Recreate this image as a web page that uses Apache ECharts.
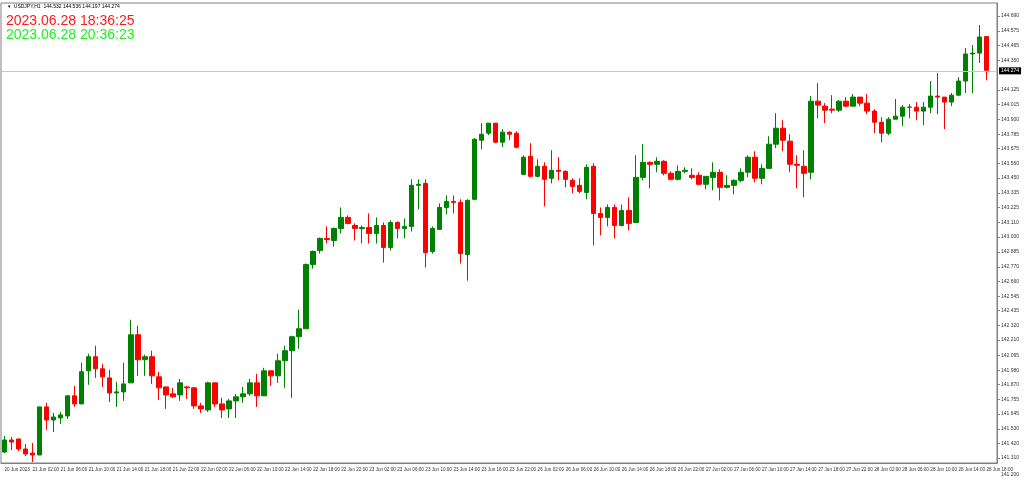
<!DOCTYPE html>
<html><head><meta charset="utf-8">
<script src="https://cdn.jsdelivr.net/npm/echarts@6/dist/echarts.min.js"></script>
<style>html,body{margin:0;padding:0;background:#fff}#c{width:1024px;height:481px}</style>
</head><body><div id="c"></div>
<script>
const opens=[141.354,141.446,141.454,141.377,141.346,141.331,141.699,141.599,141.615,141.630,141.784,141.722,141.975,142.083,141.991,141.921,141.806,141.814,141.883,142.251,142.060,142.083,141.929,141.852,141.799,141.791,141.852,141.845,141.707,141.676,141.883,141.722,141.684,141.745,141.776,141.799,141.883,141.784,141.975,141.937,142.052,142.129,142.236,142.297,142.788,142.896,142.988,142.972,143.064,143.149,143.087,143.064,143.072,143.026,143.087,142.919,143.110,143.064,143.080,143.394,143.409,142.888,143.057,143.225,143.271,143.264,142.865,143.287,143.739,143.793,143.870,143.724,143.801,143.793,143.478,143.616,143.463,143.540,143.448,143.509,143.501,143.432,143.394,143.340,143.540,143.179,143.149,143.225,143.087,143.202,143.110,143.455,143.570,143.555,143.578,143.486,143.440,143.501,143.471,143.471,143.402,143.455,143.494,143.379,143.394,143.432,143.494,143.609,143.448,143.524,143.709,143.831,143.732,143.555,143.540,143.494,144.038,144.000,143.977,143.969,144.038,144.000,144.069,144.023,143.962,143.877,143.793,143.900,143.923,143.992,143.992,143.962,143.992,144.077,144.069,144.031,144.084,144.192,144.399,144.406,144.532];
const closes=[141.446,141.431,141.377,141.339,141.331,141.699,141.599,141.622,141.638,141.784,141.722,141.968,142.083,141.991,141.929,141.806,141.814,141.875,142.251,142.060,142.083,141.937,141.845,141.791,141.776,141.883,141.845,141.707,141.684,141.883,141.722,141.676,141.745,141.776,141.799,141.883,141.784,141.975,141.937,142.052,142.129,142.236,142.297,142.788,142.888,142.988,142.980,143.064,143.149,143.103,143.064,143.072,143.026,143.087,142.919,143.110,143.064,143.080,143.394,143.402,142.880,143.064,143.225,143.271,143.264,142.872,143.279,143.747,143.785,143.870,143.724,143.801,143.785,143.686,143.609,143.463,143.540,143.440,143.509,143.501,143.440,143.386,143.348,143.532,143.179,143.149,143.225,143.087,143.202,143.103,143.455,143.570,143.555,143.578,143.486,143.440,143.501,143.509,143.455,143.402,143.463,143.494,143.379,143.394,143.432,143.494,143.609,143.448,143.524,143.709,143.831,143.739,143.555,143.547,143.486,144.038,144.008,143.969,143.969,144.038,144.000,144.069,144.023,143.962,143.877,143.793,143.900,143.923,143.992,143.993,143.962,143.992,144.077,144.069,144.031,144.084,144.192,144.399,144.406,144.529,144.274];
const lows=[141.346,141.369,141.362,141.323,141.277,141.331,141.523,141.507,141.569,141.607,141.699,141.722,141.868,141.921,141.852,141.737,141.699,141.745,141.883,141.937,141.937,141.875,141.753,141.684,141.768,141.745,141.760,141.684,141.653,141.661,141.699,141.615,141.615,141.615,141.730,141.784,141.699,141.784,141.860,141.883,141.845,141.768,142.144,142.297,142.757,142.872,142.949,142.926,143.026,143.095,142.972,142.949,142.949,142.949,142.803,142.896,142.988,142.988,143.041,143.210,142.765,142.872,143.057,143.172,143.179,142.796,142.665,143.279,143.670,143.778,143.716,143.686,143.739,143.678,143.471,143.455,143.455,143.233,143.409,143.432,143.379,143.333,143.333,143.287,142.934,143.011,143.080,142.988,143.080,143.049,143.110,143.432,143.371,143.494,143.471,143.432,143.432,143.486,143.440,143.394,143.363,143.356,143.279,143.371,143.325,143.417,143.455,143.417,143.402,143.524,143.678,143.655,143.494,143.371,143.302,143.440,143.908,143.870,143.946,143.954,143.992,144.000,144.000,143.939,143.793,143.724,143.778,143.900,143.847,143.908,143.893,143.854,143.946,143.939,143.824,144.000,144.077,144.100,144.100,144.330,144.197];
const highs=[141.477,141.469,141.454,141.415,141.423,141.699,141.730,141.653,141.661,141.784,141.860,142.037,142.106,142.167,142.029,141.983,141.891,142.037,142.366,142.320,142.098,142.129,141.968,141.852,141.845,141.914,141.860,141.852,141.730,141.891,141.883,141.768,141.760,141.799,141.852,141.914,141.952,141.998,141.975,142.106,142.167,142.244,142.443,142.796,142.896,142.995,143.080,143.072,143.225,143.164,143.103,143.087,143.179,143.149,143.110,143.126,143.118,143.141,143.440,143.440,143.440,143.080,143.256,143.317,143.317,143.287,143.287,143.755,143.870,143.870,143.870,143.824,143.808,143.808,143.624,143.716,143.593,143.570,143.663,143.609,143.509,143.448,143.448,143.555,143.563,143.225,143.248,143.248,143.248,143.302,143.624,143.709,143.578,143.609,143.586,143.501,143.547,143.532,143.524,143.494,143.463,143.570,143.517,143.471,143.440,143.524,143.624,143.655,143.555,143.770,143.946,143.893,143.785,143.624,143.663,144.077,144.176,144.023,144.084,144.046,144.069,144.092,144.069,144.092,143.977,143.916,143.916,144.054,144.008,144.015,144.031,144.031,144.192,144.253,144.069,144.100,144.222,144.445,144.468,144.621,144.536];
const priceTicks=[141.200,141.310,141.420,141.530,141.645,141.755,141.870,141.980,142.095,142.210,142.320,142.435,142.545,142.660,142.770,142.885,143.000,143.110,143.225,143.335,143.450,143.560,143.675,143.785,143.900,144.015,144.125,144.350,144.465,144.575,144.690];
const lastPrice=144.274;
const sessions=[['20 Jun',22,23],['21 Jun',0,23],['22 Jun',0,23],['23 Jun',0,23],['26 Jun',0,23],['27 Jun',0,23],['28 Jun',0,18]];
const categories=[];
sessions.forEach(s=>{for(let h=s[1];h<=s[2];h++)categories.push(s[0]+' '+String(h).padStart(2,'0')+':00');});
categories[0]='20 Jun 2023';
categories.push('');
const data=opens.map((o,i)=>[o,closes[i],lows[i],highs[i]]);
const chart=echarts.init(document.getElementById('c'));
chart.setOption({
  animation:false,
  grid:{left:1,right:27,top:3,bottom:18,show:true,borderColor:'#808080',borderWidth:1},
  xAxis:{type:'category',data:categories,boundaryGap:true,
    axisLine:{lineStyle:{color:'#808080'}},
    axisTick:{interval:(i)=>i%4===0,length:3,alignWithLabel:true,lineStyle:{color:'#808080'}},
    axisLabel:{interval:(i)=>i%4===0,align:'left',fontSize:4.6,color:'#333',margin:4,fontFamily:'Liberation Sans',hideOverlap:false,showMinLabel:true,showMaxLabel:true},
    splitLine:{show:false}},
  yAxis:{type:'value',position:'right',min:141.27,max:144.789,
    axisLine:{show:true,lineStyle:{color:'#808080'}},
    axisTick:{show:true,length:3,customValues:priceTicks,lineStyle:{color:'#808080'}},
    axisLabel:{customValues:priceTicks,fontSize:5,color:'#333',margin:4,fontFamily:'Liberation Sans',formatter:v=>v.toFixed(3),showMinLabel:true},
    splitLine:{show:false}},
  series:[{type:'candlestick',data:data,barWidth:5,
    itemStyle:{color:'#008000',borderColor:'#008000',color0:'#ff0000',borderColor0:'#ff0000',borderWidth:1},
    markLine:{silent:true,symbol:'none',data:[{yAxis:lastPrice}],
      lineStyle:{color:'#c8c8c8',type:'solid',width:1},
      label:{position:'end',formatter:lastPrice.toFixed(3),backgroundColor:'#000',color:'#fff',fontSize:5,padding:[1,2],distance:2}}}],
  graphic:[
    {type:'text',left:8,top:4,style:{text:'▾  USDJPY,H1  144.532 144.536 144.197 144.274',fontSize:5,fill:'#000',fontFamily:'Liberation Sans'}},
    {type:'text',left:6,top:14,style:{text:'2023.06.28 18:36:25',fontSize:14,fill:'#ff1a1a',fontFamily:'Liberation Sans'}},
    {type:'text',left:6,top:28,style:{text:'2023.06.28 20:36:23',fontSize:14,fill:'#22ee22',fontFamily:'Liberation Sans'}},
    {type:'text',left:1001,top:472,style:{text:'141.200',fontSize:5,fill:'#333',fontFamily:'Liberation Sans'}}
  ]
});
</script></body></html>
